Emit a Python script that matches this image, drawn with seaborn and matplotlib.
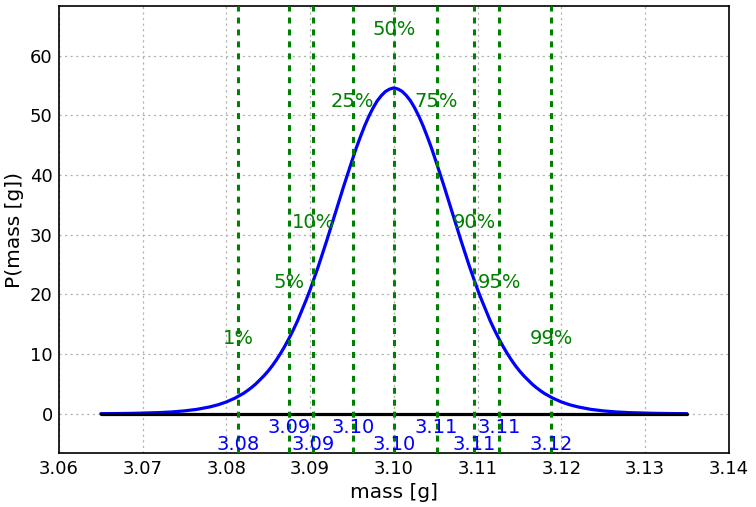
import matplotlib
matplotlib.use("Agg")
import matplotlib.pyplot as plt
import seaborn as sns
import pandas as pd

# density curve (left half, then right half)
mass_left = [3.065, 3.067, 3.069, 3.072, 3.0735, 3.075, 3.0765, 3.078, 3.079, 3.080,
             3.081, 3.082, 3.0825, 3.083, 3.0835, 3.084, 3.0845, 3.085, 3.0855, 3.086,
             3.0865, 3.087, 3.0875, 3.088, 3.0885, 3.089, 3.0895, 3.090, 3.091, 3.092,
             3.093, 3.094, 3.095, 3.0955, 3.096, 3.0965, 3.097, 3.0975, 3.098, 3.0985,
             3.099, 3.0995, 3.100]
dens_left = [0.03, 0.05, 0.09, 0.21, 0.32, 0.50, 0.76, 1.16, 1.52, 2.0,
             2.62, 3.4, 3.88, 4.41, 5.0, 5.7, 6.4, 7.2, 8.1, 9.1,
             10.2, 11.4, 12.7, 14.1, 15.6, 17.3, 19.0, 20.8, 24.8, 29.1,
             33.6, 38.1, 42.4, 44.5, 46.4, 48.2, 49.8, 51.2, 52.4, 53.3,
             54.0, 54.4, 54.6]
mass_right = [3.1005, 3.101, 3.1015, 3.102, 3.1025, 3.103, 3.1035, 3.104, 3.1045, 3.105,
              3.106, 3.107, 3.108, 3.109, 3.110, 3.1105, 3.111, 3.1115, 3.112, 3.1125,
              3.113, 3.1135, 3.114, 3.1145, 3.115, 3.1155, 3.116, 3.1165, 3.117, 3.1175,
              3.118, 3.119, 3.120, 3.121, 3.122, 3.1235, 3.125, 3.1265, 3.128, 3.131,
              3.133, 3.135]
dens_right = [54.4, 54.0, 53.3, 52.4, 51.2, 49.8, 48.2, 46.4, 44.5, 42.4,
              38.1, 33.6, 29.1, 24.8, 20.8, 19.0, 17.3, 15.6, 14.1, 12.7,
              11.4, 10.2, 9.1, 8.1, 7.2, 6.4, 5.7, 5.0, 4.41, 3.88,
              3.4, 2.62, 2.0, 1.52, 1.16, 0.76, 0.50, 0.32, 0.21, 0.09,
              0.05, 0.03]

# quantiles
pct_labels = ["1%", "5%", "10%", "25%", "50%", "75%", "90%", "95%", "99%"]
q_mass = [3.0814, 3.0875, 3.0904, 3.0951, 3.1000, 3.1051, 3.1096, 3.1126, 3.1188]
pct_text_y = [11.7, 21.1, 31.1, 51.4, 63.4, 51.4, 31.1, 21.1, 11.7]
val_text_y = [-6.1, -3.2, -6.1, -3.2, -6.1, -3.2, -6.1, -3.2, -6.1]

base_x = [3.065, 3.135]
base_y = [0, 0]

df = pd.DataFrame({"mass": mass_left + mass_right,
                   "density": dens_left + dens_right})

sns.set_style("white")
plt.rcParams["font.family"] = ["DejaVu Sans"]
plt.rcParams["lines.scale_dashes"] = False

fig = plt.figure(figsize=(7.56, 5.07), dpi=100)
ax = fig.add_axes([0.078, 0.106, 0.886, 0.882])

ax.grid(True, color="#b0b0b0", linestyle=(0, (1.5, 2.5)), linewidth=0.9)
ax.set_axisbelow(True)

sns.lineplot(data=df, x="mass", y="density", color="#0000ff", linewidth=2.3,
             ax=ax, sort=False, zorder=3, solid_joinstyle="round")
ax.plot(base_x, base_y, color="black", linewidth=2.3, zorder=4)

for q, lab, ty, vy in zip(q_mass, pct_labels, pct_text_y, val_text_y):
    ax.axvline(q, color="green", linestyle=(0, (4.3, 4.3)), linewidth=2.2, zorder=5)
    ax.text(q, ty, lab, color="green", fontsize=14, ha="center", va="baseline", zorder=6)
    ax.text(q, vy, f"{q:.2f}", color="#0000ff", fontsize=14, ha="center",
            va="baseline", zorder=6)

ax.set_xlim(3.06, 3.14)
ax.set_ylim(-6.6, 68.3)
xt = [3.06, 3.07, 3.08, 3.09, 3.10, 3.11, 3.12, 3.13, 3.14]
ax.set_xticks(xt)
ax.set_xticklabels([f"{v:.2f}" for v in xt])
ax.set_yticks([0, 10, 20, 30, 40, 50, 60])
ax.tick_params(length=0, labelsize=13, pad=4.5, colors="black")
ax.set_xlabel("mass [g]", fontsize=14.5, color="black")
ax.set_ylabel("P(mass [g])", fontsize=14.5, color="black")
for s in ax.spines.values():
    s.set_color("black")
    s.set_linewidth(1.2)

fig.savefig("out.png", dpi=100)
